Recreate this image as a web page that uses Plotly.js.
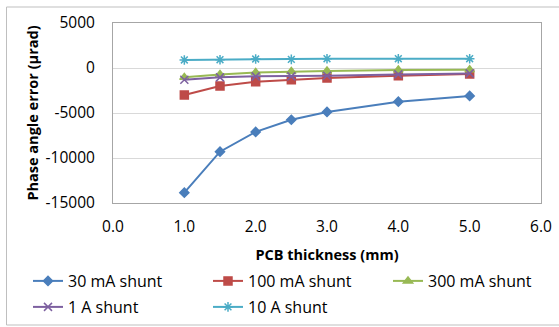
<!DOCTYPE html>
<html><head><meta charset="utf-8">
<script src="https://cdn.plot.ly/plotly-3.0.1.min.js"></script>
<style>html,body{margin:0;padding:0;background:#fff}#c{width:559px;height:327px}</style>
</head><body><div id="c"></div>
<script>
const thickness = [1.0, 1.5, 2.0, 2.5, 3.0, 4.0, 5.0];
const shunt30mA  = [-13850, -9300, -7100, -5750, -4880, -3740, -3100];
const shunt100mA = [-3000, -2000, -1520, -1300, -1110, -860, -670];
const shunt300mA = [-1040, -710, -490, -380, -340, -230, -190];
const shunt1A    = [-1300, -1040, -930, -930, -860, -710, -600];
const shunt10A   = [890, 920, 1000, 960, 1030, 1030, 1030];
const seriesNames = ['30 mA shunt', '100 mA shunt', '300 mA shunt', '1 A shunt', '10 A shunt'];
const xTicks = [0, 1, 2, 3, 4, 5, 6];
const xTickText = ['0.0', '1.0', '2.0', '3.0', '4.0', '5.0', '6.0'];
const yTicks = [5000, 0, -5000, -10000, -15000];
const yTickText = ['5000', '0', '-5000', '-10000', '-15000'];

const FONT = 'Open Sans, sans-serif';
const styles = [
  {c:'#4a7ebb', s:'diamond', z:7, lg:'legend',  lx:28,  ly:281},
  {c:'#be4b48', s:'square', z:8, lg:'legend2', lx:208, ly:281},
  {c:'#98b954', s:'triangle-up', z:8, lg:'legend3', lx:388, ly:281},
  {c:'#7d60a0', s:'x-thin-open', z:8, lg:'legend4', lx:28,  ly:307},
  {c:'#4bacc6', s:'asterisk-open', z:8, lg:'legend5', lx:208, ly:307}
];
const vals = [shunt30mA, shunt100mA, shunt300mA, shunt1A, shunt10A];
const traces = vals.map((v, i) => ({
  x: thickness, y: v, name: seriesNames[i], type: 'scatter', mode: 'lines+markers',
  line: {color: styles[i].c, width: 2},
  marker: {symbol: styles[i].s, size: styles[i].z, color: styles[i].c, line: {color: styles[i].c, width: 1.5}},
  legend: styles[i].lg
}));

const W = 559, H = 327, L = 113, R = 18, T = 23, B = 124;
const pw = W - L - R, ph = H - T - B;
const px = x => (x - L) / pw;
const py = y => (H - B - y) / ph;

const layout = {
  width: W, height: H,
  margin: {l: L, r: R, t: T, b: B, autoexpand: false},
  paper_bgcolor: '#fff', plot_bgcolor: '#fff',
  font: {family: FONT, size: 15, color: '#000'},
  showlegend: true,
  xaxis: {range: [0, 6], tickvals: xTicks, ticktext: xTickText, showgrid: false, zeroline: false,
    showline: true, mirror: true, linecolor: '#a6a6a6', linewidth: 1, ticks: '', ticklabelstandoff: 9,
    tickfont: {family: FONT, size: 15.5},
    title: {text: '<b>PCB thickness (mm)</b>', font: {family: FONT, size: 14.5}, standoff: 30}},
  yaxis: {range: [-15000, 5000], tickvals: yTicks, ticktext: yTickText, showgrid: true, gridcolor: '#d9d9d9', gridwidth: 1, zeroline: false,
    showline: true, mirror: true, linecolor: '#a6a6a6', linewidth: 1, ticks: '', ticklabelstandoff: 14,
    tickfont: {family: FONT, size: 15.5},
    title: {text: '<b>Phase angle error (μrad)</b>', font: {family: FONT, size: 14.5}, standoff: 3}},
  shapes: [{type: 'rect', xref: 'paper', yref: 'paper', x0: px(6.5), x1: px(562), y0: py(325), y1: py(7),
    line: {color: '#bfbfbf', width: 1}, fillcolor: 'rgba(0,0,0,0)', layer: 'below'}]
};
styles.forEach(s => {
  layout[s.lg] = {orientation: 'h', xanchor: 'left', yanchor: 'middle', xref: 'container', yref: 'container',
    x: s.lx / W, y: 1 - s.ly / H, font: {family: FONT, size: 16, color: '#000'},
    itemwidth: 30, bgcolor: 'rgba(0,0,0,0)'};
});
Plotly.newPlot('c', traces, layout, {staticPlot: true, displayModeBar: false});
</script></body></html>
